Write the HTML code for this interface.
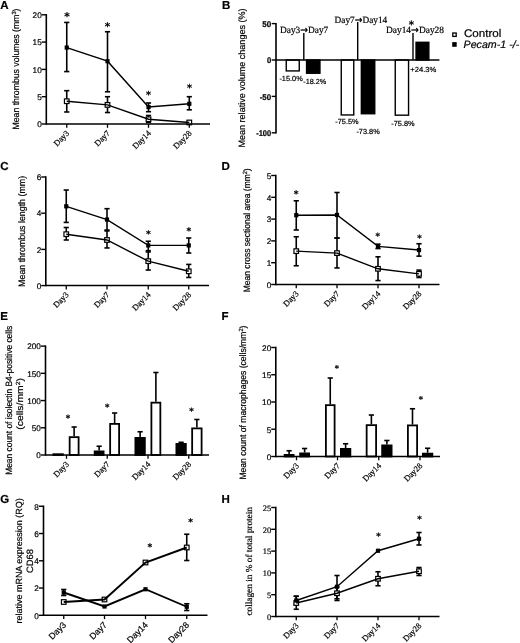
<!DOCTYPE html>
<html><head><meta charset="utf-8"><title>Figure</title>
<style>html,body{margin:0;padding:0;background:#fff;}svg{display:block;} text{stroke:#000;stroke-width:0.2px;}</style>
</head><body>
<svg width="520" height="643" viewBox="0 0 520 643" text-rendering="geometricPrecision">
<rect width="520" height="643" fill="#fff"/>
<text x="0.30" y="8.80" font-size="11.5" font-family='"Liberation Sans", Arial, sans-serif' text-anchor="start" font-weight="bold">A</text>
<line x1="66.75" y1="22.44" x2="66.75" y2="71.58" stroke="#000" stroke-width="1.6"/>
<line x1="64.15" y1="22.44" x2="69.35" y2="22.44" stroke="#000" stroke-width="1.6"/>
<line x1="64.15" y1="71.58" x2="69.35" y2="71.58" stroke="#000" stroke-width="1.6"/>
<line x1="107.50" y1="31.73" x2="107.50" y2="91.79" stroke="#000" stroke-width="1.6"/>
<line x1="104.90" y1="31.73" x2="110.10" y2="31.73" stroke="#000" stroke-width="1.6"/>
<line x1="104.90" y1="91.79" x2="110.10" y2="91.79" stroke="#000" stroke-width="1.6"/>
<line x1="148.50" y1="102.98" x2="148.50" y2="111.72" stroke="#000" stroke-width="1.6"/>
<line x1="145.90" y1="102.98" x2="151.10" y2="102.98" stroke="#000" stroke-width="1.6"/>
<line x1="145.90" y1="111.72" x2="151.10" y2="111.72" stroke="#000" stroke-width="1.6"/>
<line x1="189.30" y1="96.70" x2="189.30" y2="109.80" stroke="#000" stroke-width="1.6"/>
<line x1="186.70" y1="96.70" x2="191.90" y2="96.70" stroke="#000" stroke-width="1.6"/>
<line x1="186.70" y1="109.80" x2="191.90" y2="109.80" stroke="#000" stroke-width="1.6"/>
<line x1="66.75" y1="90.69" x2="66.75" y2="111.99" stroke="#000" stroke-width="1.6"/>
<line x1="64.15" y1="90.69" x2="69.35" y2="90.69" stroke="#000" stroke-width="1.6"/>
<line x1="64.15" y1="111.99" x2="69.35" y2="111.99" stroke="#000" stroke-width="1.6"/>
<line x1="107.50" y1="96.70" x2="107.50" y2="112.53" stroke="#000" stroke-width="1.6"/>
<line x1="104.90" y1="96.70" x2="110.10" y2="96.70" stroke="#000" stroke-width="1.6"/>
<line x1="104.90" y1="112.53" x2="110.10" y2="112.53" stroke="#000" stroke-width="1.6"/>
<line x1="148.50" y1="115.48" x2="148.50" y2="122.36" stroke="#000" stroke-width="1.6"/>
<line x1="145.90" y1="115.48" x2="151.10" y2="115.48" stroke="#000" stroke-width="1.6"/>
<line x1="145.90" y1="122.36" x2="151.10" y2="122.36" stroke="#000" stroke-width="1.6"/>
<line x1="189.30" y1="121.54" x2="189.30" y2="123.45" stroke="#000" stroke-width="1.6"/>
<line x1="186.70" y1="121.54" x2="191.90" y2="121.54" stroke="#000" stroke-width="1.6"/>
<line x1="186.70" y1="123.45" x2="191.90" y2="123.45" stroke="#000" stroke-width="1.6"/>
<rect x="64.45" y="98.93" width="4.6" height="4.6" fill="#fff" stroke="#000" stroke-width="1.2"/>
<rect x="105.20" y="102.59" width="4.6" height="4.6" fill="#fff" stroke="#000" stroke-width="1.2"/>
<rect x="146.20" y="116.95" width="4.6" height="4.6" fill="#fff" stroke="#000" stroke-width="1.2"/>
<rect x="187.00" y="120.17" width="4.6" height="4.6" fill="#fff" stroke="#000" stroke-width="1.2"/>
<polyline points="66.75,101.23 107.50,104.89 148.50,119.25 189.30,122.47" fill="none" stroke="#000" stroke-width="1.4"/>
<polyline points="66.75,47.56 107.50,61.21 148.50,107.07 189.30,103.80" fill="none" stroke="#000" stroke-width="1.4"/>
<rect x="64.65" y="45.46" width="4.2" height="4.2" fill="#000"/>
<rect x="105.40" y="59.11" width="4.2" height="4.2" fill="#000"/>
<rect x="146.40" y="104.97" width="4.2" height="4.2" fill="#000"/>
<rect x="187.20" y="101.70" width="4.2" height="4.2" fill="#000"/>
<text x="66.90" y="19.79" font-size="10.5" font-family='"DejaVu Sans", sans-serif' text-anchor="middle" font-weight="bold">*</text>
<text x="107.60" y="29.98" font-size="10.5" font-family='"DejaVu Sans", sans-serif' text-anchor="middle" font-weight="bold">*</text>
<text x="148.60" y="98.01" font-size="9.5" font-family='"DejaVu Sans", sans-serif' text-anchor="middle" font-weight="bold">*</text>
<text x="189.50" y="91.22" font-size="9.5" font-family='"DejaVu Sans", sans-serif' text-anchor="middle" font-weight="bold">*</text>
<line x1="46.30" y1="14.10" x2="46.30" y2="124.70" stroke="#000" stroke-width="1.6"/>
<line x1="41.70" y1="124.00" x2="46.30" y2="124.00" stroke="#000" stroke-width="1.4"/>
<text x="41.70" y="127.28" font-size="8.2" font-family='"Liberation Sans", Arial, sans-serif' text-anchor="end">0</text>
<line x1="41.70" y1="96.70" x2="46.30" y2="96.70" stroke="#000" stroke-width="1.4"/>
<text x="41.70" y="99.98" font-size="8.2" font-family='"Liberation Sans", Arial, sans-serif' text-anchor="end">5</text>
<line x1="41.70" y1="69.40" x2="46.30" y2="69.40" stroke="#000" stroke-width="1.4"/>
<text x="41.70" y="72.68" font-size="8.2" font-family='"Liberation Sans", Arial, sans-serif' text-anchor="end">10</text>
<line x1="41.70" y1="42.10" x2="46.30" y2="42.10" stroke="#000" stroke-width="1.4"/>
<text x="41.70" y="45.38" font-size="8.2" font-family='"Liberation Sans", Arial, sans-serif' text-anchor="end">15</text>
<line x1="41.70" y1="14.80" x2="46.30" y2="14.80" stroke="#000" stroke-width="1.4"/>
<text x="41.70" y="18.08" font-size="8.2" font-family='"Liberation Sans", Arial, sans-serif' text-anchor="end">20</text>
<line x1="46.30" y1="124.00" x2="210.00" y2="124.00" stroke="#000" stroke-width="1.5"/>
<line x1="66.75" y1="124.00" x2="66.75" y2="127.80" stroke="#000" stroke-width="1.3"/>
<text x="69.75" y="133.80" font-size="8.4" font-family='"Liberation Serif", "Times New Roman", serif' text-anchor="end" transform="rotate(-45 69.75 133.80)">Day3</text>
<line x1="107.50" y1="124.00" x2="107.50" y2="127.80" stroke="#000" stroke-width="1.3"/>
<text x="110.50" y="133.80" font-size="8.4" font-family='"Liberation Serif", "Times New Roman", serif' text-anchor="end" transform="rotate(-45 110.50 133.80)">Day7</text>
<line x1="148.50" y1="124.00" x2="148.50" y2="127.80" stroke="#000" stroke-width="1.3"/>
<text x="151.50" y="133.80" font-size="8.4" font-family='"Liberation Serif", "Times New Roman", serif' text-anchor="end" transform="rotate(-45 151.50 133.80)">Day14</text>
<line x1="189.30" y1="124.00" x2="189.30" y2="127.80" stroke="#000" stroke-width="1.3"/>
<text x="192.30" y="133.80" font-size="8.4" font-family='"Liberation Serif", "Times New Roman", serif' text-anchor="end" transform="rotate(-45 192.30 133.80)">Day28</text>
<text x="19.30" y="69.00" font-size="9.2" font-family='"Liberation Sans", Arial, sans-serif' text-anchor="middle" transform="rotate(-90 19.30 69.00)" textLength="121" lengthAdjust="spacingAndGlyphs">Mean thrombus volumes (mm<tspan font-size="6" dy="-3.2">3</tspan><tspan dy="3.2">)</tspan></text>
<text x="0.20" y="170.20" font-size="11.5" font-family='"Liberation Sans", Arial, sans-serif' text-anchor="start" font-weight="bold">C</text>
<line x1="66.25" y1="190.03" x2="66.25" y2="222.43" stroke="#000" stroke-width="1.6"/>
<line x1="63.65" y1="190.03" x2="68.85" y2="190.03" stroke="#000" stroke-width="1.6"/>
<line x1="63.65" y1="222.43" x2="68.85" y2="222.43" stroke="#000" stroke-width="1.6"/>
<line x1="107.00" y1="208.68" x2="107.00" y2="230.94" stroke="#000" stroke-width="1.6"/>
<line x1="104.40" y1="208.68" x2="109.60" y2="208.68" stroke="#000" stroke-width="1.6"/>
<line x1="104.40" y1="230.94" x2="109.60" y2="230.94" stroke="#000" stroke-width="1.6"/>
<line x1="148.25" y1="241.26" x2="148.25" y2="250.67" stroke="#000" stroke-width="1.6"/>
<line x1="145.65" y1="241.26" x2="150.85" y2="241.26" stroke="#000" stroke-width="1.6"/>
<line x1="145.65" y1="250.67" x2="150.85" y2="250.67" stroke="#000" stroke-width="1.6"/>
<line x1="188.75" y1="238.00" x2="188.75" y2="253.02" stroke="#000" stroke-width="1.6"/>
<line x1="186.15" y1="238.00" x2="191.35" y2="238.00" stroke="#000" stroke-width="1.6"/>
<line x1="186.15" y1="253.02" x2="191.35" y2="253.02" stroke="#000" stroke-width="1.6"/>
<line x1="66.25" y1="227.50" x2="66.25" y2="239.99" stroke="#000" stroke-width="1.6"/>
<line x1="63.65" y1="227.50" x2="68.85" y2="227.50" stroke="#000" stroke-width="1.6"/>
<line x1="63.65" y1="239.99" x2="68.85" y2="239.99" stroke="#000" stroke-width="1.6"/>
<line x1="107.00" y1="230.03" x2="107.00" y2="247.95" stroke="#000" stroke-width="1.6"/>
<line x1="104.40" y1="230.03" x2="109.60" y2="230.03" stroke="#000" stroke-width="1.6"/>
<line x1="104.40" y1="247.95" x2="109.60" y2="247.95" stroke="#000" stroke-width="1.6"/>
<line x1="148.25" y1="251.93" x2="148.25" y2="270.03" stroke="#000" stroke-width="1.6"/>
<line x1="145.65" y1="251.93" x2="150.85" y2="251.93" stroke="#000" stroke-width="1.6"/>
<line x1="145.65" y1="270.03" x2="150.85" y2="270.03" stroke="#000" stroke-width="1.6"/>
<line x1="188.75" y1="264.42" x2="188.75" y2="277.46" stroke="#000" stroke-width="1.6"/>
<line x1="186.15" y1="264.42" x2="191.35" y2="264.42" stroke="#000" stroke-width="1.6"/>
<line x1="186.15" y1="277.46" x2="191.35" y2="277.46" stroke="#000" stroke-width="1.6"/>
<rect x="63.95" y="231.90" width="4.6" height="4.6" fill="#fff" stroke="#000" stroke-width="1.2"/>
<rect x="104.70" y="237.69" width="4.6" height="4.6" fill="#fff" stroke="#000" stroke-width="1.2"/>
<rect x="145.95" y="258.87" width="4.6" height="4.6" fill="#fff" stroke="#000" stroke-width="1.2"/>
<rect x="186.45" y="269.00" width="4.6" height="4.6" fill="#fff" stroke="#000" stroke-width="1.2"/>
<polyline points="66.25,234.20 107.00,239.99 148.25,261.17 188.75,271.30" fill="none" stroke="#000" stroke-width="1.4"/>
<polyline points="66.25,206.32 107.00,219.54 148.25,245.42 188.75,245.42" fill="none" stroke="#000" stroke-width="1.4"/>
<rect x="64.15" y="204.22" width="4.2" height="4.2" fill="#000"/>
<rect x="104.90" y="217.44" width="4.2" height="4.2" fill="#000"/>
<rect x="146.15" y="243.32" width="4.2" height="4.2" fill="#000"/>
<rect x="186.65" y="243.32" width="4.2" height="4.2" fill="#000"/>
<text x="148.25" y="236.93" font-size="9" font-family='"DejaVu Sans", sans-serif' text-anchor="middle" font-weight="bold">*</text>
<text x="188.75" y="234.03" font-size="9" font-family='"DejaVu Sans", sans-serif' text-anchor="middle" font-weight="bold">*</text>
<line x1="45.80" y1="176.30" x2="45.80" y2="286.30" stroke="#000" stroke-width="1.6"/>
<line x1="41.20" y1="285.60" x2="45.80" y2="285.60" stroke="#000" stroke-width="1.4"/>
<text x="41.20" y="288.88" font-size="8.2" font-family='"Liberation Sans", Arial, sans-serif' text-anchor="end">0</text>
<line x1="41.20" y1="249.40" x2="45.80" y2="249.40" stroke="#000" stroke-width="1.4"/>
<text x="41.20" y="252.68" font-size="8.2" font-family='"Liberation Sans", Arial, sans-serif' text-anchor="end">2</text>
<line x1="41.20" y1="213.20" x2="45.80" y2="213.20" stroke="#000" stroke-width="1.4"/>
<text x="41.20" y="216.48" font-size="8.2" font-family='"Liberation Sans", Arial, sans-serif' text-anchor="end">4</text>
<line x1="41.20" y1="177.00" x2="45.80" y2="177.00" stroke="#000" stroke-width="1.4"/>
<text x="41.20" y="180.28" font-size="8.2" font-family='"Liberation Sans", Arial, sans-serif' text-anchor="end">6</text>
<line x1="45.80" y1="285.60" x2="209.00" y2="285.60" stroke="#000" stroke-width="1.5"/>
<line x1="66.25" y1="285.60" x2="66.25" y2="289.40" stroke="#000" stroke-width="1.3"/>
<text x="69.25" y="295.40" font-size="8.4" font-family='"Liberation Serif", "Times New Roman", serif' text-anchor="end" transform="rotate(-45 69.25 295.40)">Day3</text>
<line x1="107.00" y1="285.60" x2="107.00" y2="289.40" stroke="#000" stroke-width="1.3"/>
<text x="110.00" y="295.40" font-size="8.4" font-family='"Liberation Serif", "Times New Roman", serif' text-anchor="end" transform="rotate(-45 110.00 295.40)">Day7</text>
<line x1="148.25" y1="285.60" x2="148.25" y2="289.40" stroke="#000" stroke-width="1.3"/>
<text x="151.25" y="295.40" font-size="8.4" font-family='"Liberation Serif", "Times New Roman", serif' text-anchor="end" transform="rotate(-45 151.25 295.40)">Day14</text>
<line x1="188.75" y1="285.60" x2="188.75" y2="289.40" stroke="#000" stroke-width="1.3"/>
<text x="191.75" y="295.40" font-size="8.4" font-family='"Liberation Serif", "Times New Roman", serif' text-anchor="end" transform="rotate(-45 191.75 295.40)">Day28</text>
<text x="25.00" y="231.40" font-size="9.4" font-family='"Liberation Sans", Arial, sans-serif' text-anchor="middle" transform="rotate(-90 25.00 231.40)" textLength="111" lengthAdjust="spacingAndGlyphs">Mean thrombus length (mm)</text>
<text x="221.60" y="170.20" font-size="11.5" font-family='"Liberation Sans", Arial, sans-serif' text-anchor="start" font-weight="bold">D</text>
<line x1="296.25" y1="200.79" x2="296.25" y2="230.00" stroke="#000" stroke-width="1.6"/>
<line x1="293.65" y1="200.79" x2="298.85" y2="200.79" stroke="#000" stroke-width="1.6"/>
<line x1="293.65" y1="230.00" x2="298.85" y2="230.00" stroke="#000" stroke-width="1.6"/>
<line x1="337.00" y1="192.50" x2="337.00" y2="238.07" stroke="#000" stroke-width="1.6"/>
<line x1="334.40" y1="192.50" x2="339.60" y2="192.50" stroke="#000" stroke-width="1.6"/>
<line x1="334.40" y1="238.07" x2="339.60" y2="238.07" stroke="#000" stroke-width="1.6"/>
<line x1="378.00" y1="244.17" x2="378.00" y2="248.53" stroke="#000" stroke-width="1.6"/>
<line x1="375.40" y1="244.17" x2="380.60" y2="244.17" stroke="#000" stroke-width="1.6"/>
<line x1="375.40" y1="248.53" x2="380.60" y2="248.53" stroke="#000" stroke-width="1.6"/>
<line x1="419.00" y1="243.73" x2="419.00" y2="256.16" stroke="#000" stroke-width="1.6"/>
<line x1="416.40" y1="243.73" x2="421.60" y2="243.73" stroke="#000" stroke-width="1.6"/>
<line x1="416.40" y1="256.16" x2="421.60" y2="256.16" stroke="#000" stroke-width="1.6"/>
<line x1="296.25" y1="236.76" x2="296.25" y2="265.75" stroke="#000" stroke-width="1.6"/>
<line x1="293.65" y1="236.76" x2="298.85" y2="236.76" stroke="#000" stroke-width="1.6"/>
<line x1="293.65" y1="265.75" x2="298.85" y2="265.75" stroke="#000" stroke-width="1.6"/>
<line x1="337.00" y1="238.07" x2="337.00" y2="267.93" stroke="#000" stroke-width="1.6"/>
<line x1="334.40" y1="238.07" x2="339.60" y2="238.07" stroke="#000" stroke-width="1.6"/>
<line x1="334.40" y1="267.93" x2="339.60" y2="267.93" stroke="#000" stroke-width="1.6"/>
<line x1="378.00" y1="256.81" x2="378.00" y2="280.58" stroke="#000" stroke-width="1.6"/>
<line x1="375.40" y1="256.81" x2="380.60" y2="256.81" stroke="#000" stroke-width="1.6"/>
<line x1="375.40" y1="280.58" x2="380.60" y2="280.58" stroke="#000" stroke-width="1.6"/>
<line x1="419.00" y1="270.11" x2="419.00" y2="277.52" stroke="#000" stroke-width="1.6"/>
<line x1="416.40" y1="270.11" x2="421.60" y2="270.11" stroke="#000" stroke-width="1.6"/>
<line x1="416.40" y1="277.52" x2="421.60" y2="277.52" stroke="#000" stroke-width="1.6"/>
<rect x="293.95" y="248.85" width="4.6" height="4.6" fill="#fff" stroke="#000" stroke-width="1.2"/>
<rect x="334.70" y="250.81" width="4.6" height="4.6" fill="#fff" stroke="#000" stroke-width="1.2"/>
<rect x="375.70" y="266.50" width="4.6" height="4.6" fill="#fff" stroke="#000" stroke-width="1.2"/>
<rect x="416.70" y="271.52" width="4.6" height="4.6" fill="#fff" stroke="#000" stroke-width="1.2"/>
<polyline points="296.25,251.15 337.00,253.11 378.00,268.80 419.00,273.82" fill="none" stroke="#000" stroke-width="1.4"/>
<polyline points="296.25,215.18 337.00,214.96 378.00,246.35 419.00,250.06" fill="none" stroke="#000" stroke-width="1.4"/>
<rect x="294.15" y="213.08" width="4.2" height="4.2" fill="#000"/>
<rect x="334.90" y="212.86" width="4.2" height="4.2" fill="#000"/>
<rect x="375.90" y="244.25" width="4.2" height="4.2" fill="#000"/>
<rect x="416.90" y="247.96" width="4.2" height="4.2" fill="#000"/>
<text x="296.10" y="197.43" font-size="9" font-family='"DejaVu Sans", sans-serif' text-anchor="middle" font-weight="bold">*</text>
<text x="377.70" y="239.25" font-size="8.5" font-family='"DejaVu Sans", sans-serif' text-anchor="middle" font-weight="bold">*</text>
<text x="419.40" y="241.34" font-size="8.5" font-family='"DejaVu Sans", sans-serif' text-anchor="middle" font-weight="bold">*</text>
<line x1="275.80" y1="174.80" x2="275.80" y2="285.20" stroke="#000" stroke-width="1.6"/>
<line x1="271.20" y1="284.50" x2="275.80" y2="284.50" stroke="#000" stroke-width="1.4"/>
<text x="271.20" y="287.78" font-size="8.2" font-family='"Liberation Sans", Arial, sans-serif' text-anchor="end">0</text>
<line x1="271.20" y1="262.70" x2="275.80" y2="262.70" stroke="#000" stroke-width="1.4"/>
<text x="271.20" y="265.98" font-size="8.2" font-family='"Liberation Sans", Arial, sans-serif' text-anchor="end">1</text>
<line x1="271.20" y1="240.90" x2="275.80" y2="240.90" stroke="#000" stroke-width="1.4"/>
<text x="271.20" y="244.18" font-size="8.2" font-family='"Liberation Sans", Arial, sans-serif' text-anchor="end">2</text>
<line x1="271.20" y1="219.10" x2="275.80" y2="219.10" stroke="#000" stroke-width="1.4"/>
<text x="271.20" y="222.38" font-size="8.2" font-family='"Liberation Sans", Arial, sans-serif' text-anchor="end">3</text>
<line x1="271.20" y1="197.30" x2="275.80" y2="197.30" stroke="#000" stroke-width="1.4"/>
<text x="271.20" y="200.58" font-size="8.2" font-family='"Liberation Sans", Arial, sans-serif' text-anchor="end">4</text>
<line x1="271.20" y1="175.50" x2="275.80" y2="175.50" stroke="#000" stroke-width="1.4"/>
<text x="271.20" y="178.78" font-size="8.2" font-family='"Liberation Sans", Arial, sans-serif' text-anchor="end">5</text>
<line x1="275.80" y1="284.50" x2="439.50" y2="284.50" stroke="#000" stroke-width="1.5"/>
<line x1="296.25" y1="284.50" x2="296.25" y2="288.30" stroke="#000" stroke-width="1.3"/>
<text x="299.25" y="294.30" font-size="8.4" font-family='"Liberation Serif", "Times New Roman", serif' text-anchor="end" transform="rotate(-45 299.25 294.30)">Day3</text>
<line x1="337.00" y1="284.50" x2="337.00" y2="288.30" stroke="#000" stroke-width="1.3"/>
<text x="340.00" y="294.30" font-size="8.4" font-family='"Liberation Serif", "Times New Roman", serif' text-anchor="end" transform="rotate(-45 340.00 294.30)">Day7</text>
<line x1="378.00" y1="284.50" x2="378.00" y2="288.30" stroke="#000" stroke-width="1.3"/>
<text x="381.00" y="294.30" font-size="8.4" font-family='"Liberation Serif", "Times New Roman", serif' text-anchor="end" transform="rotate(-45 381.00 294.30)">Day14</text>
<line x1="419.00" y1="284.50" x2="419.00" y2="288.30" stroke="#000" stroke-width="1.3"/>
<text x="422.00" y="294.30" font-size="8.4" font-family='"Liberation Serif", "Times New Roman", serif' text-anchor="end" transform="rotate(-45 422.00 294.30)">Day28</text>
<text x="250.50" y="230.30" font-size="9.2" font-family='"Liberation Sans", Arial, sans-serif' text-anchor="middle" transform="rotate(-90 250.50 230.30)" textLength="124" lengthAdjust="spacingAndGlyphs">Mean cross sectional area (mm<tspan font-size="6" dy="-3.2">2</tspan><tspan dy="3.2">)</tspan></text>
<text x="0.20" y="320.20" font-size="11.5" font-family='"Liberation Sans", Arial, sans-serif' text-anchor="start" font-weight="bold">E</text>
<rect x="53.40" y="454.20" width="9.45" height="0.80" fill="#000" stroke="#000" stroke-width="1.8"/>
<line x1="74.12" y1="427.00" x2="74.12" y2="436.25" stroke="#000" stroke-width="1.6"/>
<line x1="71.53" y1="427.00" x2="76.72" y2="427.00" stroke="#000" stroke-width="1.6"/>
<rect x="69.65" y="437.15" width="8.95" height="17.85" fill="#fff" stroke="#000" stroke-width="1.8"/>
<line x1="99.12" y1="446.25" x2="99.12" y2="450.50" stroke="#000" stroke-width="1.6"/>
<line x1="96.53" y1="446.25" x2="101.72" y2="446.25" stroke="#000" stroke-width="1.6"/>
<rect x="94.65" y="451.40" width="8.95" height="3.60" fill="#000" stroke="#000" stroke-width="1.8"/>
<line x1="114.62" y1="413.00" x2="114.62" y2="423.00" stroke="#000" stroke-width="1.6"/>
<line x1="112.03" y1="413.00" x2="117.22" y2="413.00" stroke="#000" stroke-width="1.6"/>
<rect x="110.15" y="423.90" width="8.95" height="31.10" fill="#fff" stroke="#000" stroke-width="1.8"/>
<line x1="140.12" y1="431.75" x2="140.12" y2="437.00" stroke="#000" stroke-width="1.6"/>
<line x1="137.53" y1="431.75" x2="142.72" y2="431.75" stroke="#000" stroke-width="1.6"/>
<rect x="135.40" y="437.90" width="9.45" height="17.10" fill="#000" stroke="#000" stroke-width="1.8"/>
<line x1="155.88" y1="372.50" x2="155.88" y2="401.75" stroke="#000" stroke-width="1.6"/>
<line x1="153.28" y1="372.50" x2="158.47" y2="372.50" stroke="#000" stroke-width="1.6"/>
<rect x="151.40" y="402.65" width="8.95" height="52.35" fill="#fff" stroke="#000" stroke-width="1.8"/>
<line x1="181.12" y1="442.30" x2="181.12" y2="443.00" stroke="#000" stroke-width="1.6"/>
<line x1="178.53" y1="442.30" x2="183.72" y2="442.30" stroke="#000" stroke-width="1.6"/>
<rect x="176.40" y="443.90" width="9.45" height="11.10" fill="#000" stroke="#000" stroke-width="1.8"/>
<line x1="196.88" y1="419.50" x2="196.88" y2="427.50" stroke="#000" stroke-width="1.6"/>
<line x1="194.28" y1="419.50" x2="199.47" y2="419.50" stroke="#000" stroke-width="1.6"/>
<rect x="192.15" y="428.40" width="9.45" height="26.60" fill="#fff" stroke="#000" stroke-width="1.8"/>
<text x="68.00" y="421.25" font-size="8.5" font-family='"DejaVu Sans", sans-serif' text-anchor="middle" font-weight="bold">*</text>
<text x="107.30" y="409.85" font-size="8.5" font-family='"DejaVu Sans", sans-serif' text-anchor="middle" font-weight="bold">*</text>
<text x="191.50" y="414.45" font-size="8.5" font-family='"DejaVu Sans", sans-serif' text-anchor="middle" font-weight="bold">*</text>
<line x1="45.50" y1="345.40" x2="45.50" y2="455.70" stroke="#000" stroke-width="1.6"/>
<line x1="40.90" y1="455.00" x2="45.50" y2="455.00" stroke="#000" stroke-width="1.4"/>
<text x="40.90" y="458.28" font-size="8.2" font-family='"Liberation Sans", Arial, sans-serif' text-anchor="end">0</text>
<line x1="40.90" y1="427.77" x2="45.50" y2="427.77" stroke="#000" stroke-width="1.4"/>
<text x="40.90" y="431.05" font-size="8.2" font-family='"Liberation Sans", Arial, sans-serif' text-anchor="end">50</text>
<line x1="40.90" y1="400.55" x2="45.50" y2="400.55" stroke="#000" stroke-width="1.4"/>
<text x="40.90" y="403.83" font-size="8.2" font-family='"Liberation Sans", Arial, sans-serif' text-anchor="end">100</text>
<line x1="40.90" y1="373.32" x2="45.50" y2="373.32" stroke="#000" stroke-width="1.4"/>
<text x="40.90" y="376.60" font-size="8.2" font-family='"Liberation Sans", Arial, sans-serif' text-anchor="end">150</text>
<line x1="40.90" y1="346.10" x2="45.50" y2="346.10" stroke="#000" stroke-width="1.4"/>
<text x="40.90" y="349.38" font-size="8.2" font-family='"Liberation Sans", Arial, sans-serif' text-anchor="end">200</text>
<line x1="45.50" y1="455.00" x2="209.00" y2="455.00" stroke="#000" stroke-width="1.5"/>
<line x1="66.50" y1="455.00" x2="66.50" y2="458.80" stroke="#000" stroke-width="1.3"/>
<text x="69.50" y="464.80" font-size="8.4" font-family='"Liberation Serif", "Times New Roman", serif' text-anchor="end" transform="rotate(-45 69.50 464.80)">Day3</text>
<line x1="107.25" y1="455.00" x2="107.25" y2="458.80" stroke="#000" stroke-width="1.3"/>
<text x="110.25" y="464.80" font-size="8.4" font-family='"Liberation Serif", "Times New Roman", serif' text-anchor="end" transform="rotate(-45 110.25 464.80)">Day7</text>
<line x1="148.00" y1="455.00" x2="148.00" y2="458.80" stroke="#000" stroke-width="1.3"/>
<text x="151.00" y="464.80" font-size="8.4" font-family='"Liberation Serif", "Times New Roman", serif' text-anchor="end" transform="rotate(-45 151.00 464.80)">Day14</text>
<line x1="188.75" y1="455.00" x2="188.75" y2="458.80" stroke="#000" stroke-width="1.3"/>
<text x="191.75" y="464.80" font-size="8.4" font-family='"Liberation Serif", "Times New Roman", serif' text-anchor="end" transform="rotate(-45 191.75 464.80)">Day28</text>
<text x="12.00" y="400.30" font-size="9.2" font-family='"Liberation Sans", Arial, sans-serif' text-anchor="middle" transform="rotate(-90 12.00 400.30)" textLength="149" lengthAdjust="spacingAndGlyphs">Mean count of isolectin B4-positive cells</text>
<text x="23.50" y="403.90" font-size="9.2" font-family='"Liberation Sans", Arial, sans-serif' text-anchor="middle" transform="rotate(-90 23.50 403.90)" textLength="51.5" lengthAdjust="spacingAndGlyphs">(cells/mm<tspan font-size="6" dy="-3.2">2</tspan><tspan dy="3.2">)</tspan></text>
<text x="221.60" y="320.20" font-size="11.5" font-family='"Liberation Sans", Arial, sans-serif' text-anchor="start" font-weight="bold">F</text>
<line x1="289.12" y1="450.75" x2="289.12" y2="454.00" stroke="#000" stroke-width="1.6"/>
<line x1="286.52" y1="450.75" x2="291.73" y2="450.75" stroke="#000" stroke-width="1.6"/>
<rect x="284.65" y="454.90" width="8.95" height="1.60" fill="#fff" stroke="#000" stroke-width="1.8"/>
<line x1="304.62" y1="448.50" x2="304.62" y2="452.50" stroke="#000" stroke-width="1.6"/>
<line x1="302.02" y1="448.50" x2="307.23" y2="448.50" stroke="#000" stroke-width="1.6"/>
<rect x="300.15" y="453.40" width="8.95" height="3.10" fill="#000" stroke="#000" stroke-width="1.8"/>
<line x1="330.25" y1="378.00" x2="330.25" y2="404.25" stroke="#000" stroke-width="1.6"/>
<line x1="327.65" y1="378.00" x2="332.85" y2="378.00" stroke="#000" stroke-width="1.6"/>
<rect x="325.90" y="405.15" width="8.70" height="51.35" fill="#fff" stroke="#000" stroke-width="1.8"/>
<line x1="345.62" y1="443.75" x2="345.62" y2="448.00" stroke="#000" stroke-width="1.6"/>
<line x1="343.02" y1="443.75" x2="348.23" y2="443.75" stroke="#000" stroke-width="1.6"/>
<rect x="340.90" y="448.90" width="9.45" height="7.60" fill="#000" stroke="#000" stroke-width="1.8"/>
<line x1="371.38" y1="415.00" x2="371.38" y2="424.25" stroke="#000" stroke-width="1.6"/>
<line x1="368.77" y1="415.00" x2="373.98" y2="415.00" stroke="#000" stroke-width="1.6"/>
<rect x="366.65" y="425.15" width="9.45" height="31.35" fill="#fff" stroke="#000" stroke-width="1.8"/>
<line x1="386.88" y1="440.50" x2="386.88" y2="444.50" stroke="#000" stroke-width="1.6"/>
<line x1="384.27" y1="440.50" x2="389.48" y2="440.50" stroke="#000" stroke-width="1.6"/>
<rect x="382.15" y="445.40" width="9.45" height="11.10" fill="#000" stroke="#000" stroke-width="1.8"/>
<line x1="412.50" y1="408.75" x2="412.50" y2="424.50" stroke="#000" stroke-width="1.6"/>
<line x1="409.90" y1="408.75" x2="415.10" y2="408.75" stroke="#000" stroke-width="1.6"/>
<rect x="407.90" y="425.40" width="9.20" height="31.10" fill="#fff" stroke="#000" stroke-width="1.8"/>
<line x1="427.62" y1="448.25" x2="427.62" y2="452.75" stroke="#000" stroke-width="1.6"/>
<line x1="425.02" y1="448.25" x2="430.23" y2="448.25" stroke="#000" stroke-width="1.6"/>
<rect x="422.90" y="453.65" width="9.45" height="2.85" fill="#000" stroke="#000" stroke-width="1.8"/>
<text x="336.90" y="370.66" font-size="8" font-family='"DejaVu Sans", sans-serif' text-anchor="middle" font-weight="bold">*</text>
<text x="420.90" y="401.56" font-size="8" font-family='"DejaVu Sans", sans-serif' text-anchor="middle" font-weight="bold">*</text>
<line x1="275.80" y1="346.80" x2="275.80" y2="457.20" stroke="#000" stroke-width="1.6"/>
<line x1="271.20" y1="456.50" x2="275.80" y2="456.50" stroke="#000" stroke-width="1.4"/>
<text x="271.20" y="459.78" font-size="8.2" font-family='"Liberation Sans", Arial, sans-serif' text-anchor="end">0</text>
<line x1="271.20" y1="429.25" x2="275.80" y2="429.25" stroke="#000" stroke-width="1.4"/>
<text x="271.20" y="432.53" font-size="8.2" font-family='"Liberation Sans", Arial, sans-serif' text-anchor="end">5</text>
<line x1="271.20" y1="402.00" x2="275.80" y2="402.00" stroke="#000" stroke-width="1.4"/>
<text x="271.20" y="405.28" font-size="8.2" font-family='"Liberation Sans", Arial, sans-serif' text-anchor="end">10</text>
<line x1="271.20" y1="374.75" x2="275.80" y2="374.75" stroke="#000" stroke-width="1.4"/>
<text x="271.20" y="378.03" font-size="8.2" font-family='"Liberation Sans", Arial, sans-serif' text-anchor="end">15</text>
<line x1="271.20" y1="347.50" x2="275.80" y2="347.50" stroke="#000" stroke-width="1.4"/>
<text x="271.20" y="350.78" font-size="8.2" font-family='"Liberation Sans", Arial, sans-serif' text-anchor="end">20</text>
<line x1="275.80" y1="456.50" x2="440.00" y2="456.50" stroke="#000" stroke-width="1.5"/>
<line x1="296.50" y1="456.50" x2="296.50" y2="460.30" stroke="#000" stroke-width="1.3"/>
<text x="299.50" y="466.30" font-size="8.4" font-family='"Liberation Serif", "Times New Roman", serif' text-anchor="end" transform="rotate(-45 299.50 466.30)">Day3</text>
<line x1="337.50" y1="456.50" x2="337.50" y2="460.30" stroke="#000" stroke-width="1.3"/>
<text x="340.50" y="466.30" font-size="8.4" font-family='"Liberation Serif", "Times New Roman", serif' text-anchor="end" transform="rotate(-45 340.50 466.30)">Day7</text>
<line x1="378.75" y1="456.50" x2="378.75" y2="460.30" stroke="#000" stroke-width="1.3"/>
<text x="381.75" y="466.30" font-size="8.4" font-family='"Liberation Serif", "Times New Roman", serif' text-anchor="end" transform="rotate(-45 381.75 466.30)">Day14</text>
<line x1="420.00" y1="456.50" x2="420.00" y2="460.30" stroke="#000" stroke-width="1.3"/>
<text x="423.00" y="466.30" font-size="8.4" font-family='"Liberation Serif", "Times New Roman", serif' text-anchor="end" transform="rotate(-45 423.00 466.30)">Day28</text>
<text x="246.00" y="402.60" font-size="9.2" font-family='"Liberation Sans", Arial, sans-serif' text-anchor="middle" transform="rotate(-90 246.00 402.60)" textLength="154" lengthAdjust="spacingAndGlyphs">Mean count of macrophages (cells/mm<tspan font-size="6" dy="-3.2">2</tspan><tspan dy="3.2">)</tspan></text>
<text x="0.20" y="503.30" font-size="11.5" font-family='"Liberation Sans", Arial, sans-serif' text-anchor="start" font-weight="bold">G</text>
<line x1="63.75" y1="589.50" x2="63.75" y2="595.50" stroke="#000" stroke-width="1.6"/>
<line x1="61.15" y1="589.50" x2="66.35" y2="589.50" stroke="#000" stroke-width="1.6"/>
<line x1="61.15" y1="595.50" x2="66.35" y2="595.50" stroke="#000" stroke-width="1.6"/>
<line x1="186.75" y1="603.75" x2="186.75" y2="610.50" stroke="#000" stroke-width="1.6"/>
<line x1="184.15" y1="603.75" x2="189.35" y2="603.75" stroke="#000" stroke-width="1.6"/>
<line x1="184.15" y1="610.50" x2="189.35" y2="610.50" stroke="#000" stroke-width="1.6"/>
<line x1="186.75" y1="534.25" x2="186.75" y2="560.50" stroke="#000" stroke-width="1.6"/>
<line x1="184.15" y1="534.25" x2="189.35" y2="534.25" stroke="#000" stroke-width="1.6"/>
<line x1="184.15" y1="560.50" x2="189.35" y2="560.50" stroke="#000" stroke-width="1.6"/>
<rect x="61.45" y="599.70" width="4.6" height="4.6" fill="#fff" stroke="#000" stroke-width="1.2"/>
<rect x="102.20" y="597.20" width="4.6" height="4.6" fill="#fff" stroke="#000" stroke-width="1.2"/>
<rect x="143.20" y="560.20" width="4.6" height="4.6" fill="#fff" stroke="#000" stroke-width="1.2"/>
<rect x="184.45" y="545.20" width="4.6" height="4.6" fill="#fff" stroke="#000" stroke-width="1.2"/>
<polyline points="63.75,602.00 104.50,599.50 145.50,562.50 186.75,547.50" fill="none" stroke="#000" stroke-width="1.9"/>
<polyline points="63.75,592.50 104.50,606.50 145.50,589.25 186.75,606.75" fill="none" stroke="#000" stroke-width="1.9"/>
<rect x="61.65" y="590.40" width="4.2" height="4.2" fill="#000"/>
<rect x="102.40" y="604.40" width="4.2" height="4.2" fill="#000"/>
<rect x="143.40" y="587.15" width="4.2" height="4.2" fill="#000"/>
<rect x="184.65" y="604.65" width="4.2" height="4.2" fill="#000"/>
<text x="149.75" y="549.88" font-size="9" font-family='"DejaVu Sans", sans-serif' text-anchor="middle" font-weight="bold">*</text>
<text x="190.60" y="524.53" font-size="9" font-family='"DejaVu Sans", sans-serif' text-anchor="middle" font-weight="bold">*</text>
<line x1="43.50" y1="505.56" x2="43.50" y2="616.00" stroke="#000" stroke-width="1.6"/>
<line x1="38.90" y1="615.30" x2="43.50" y2="615.30" stroke="#000" stroke-width="1.4"/>
<text x="38.90" y="618.58" font-size="8.2" font-family='"Liberation Sans", Arial, sans-serif' text-anchor="end">0</text>
<line x1="38.90" y1="588.04" x2="43.50" y2="588.04" stroke="#000" stroke-width="1.4"/>
<text x="38.90" y="591.32" font-size="8.2" font-family='"Liberation Sans", Arial, sans-serif' text-anchor="end">2</text>
<line x1="38.90" y1="560.78" x2="43.50" y2="560.78" stroke="#000" stroke-width="1.4"/>
<text x="38.90" y="564.06" font-size="8.2" font-family='"Liberation Sans", Arial, sans-serif' text-anchor="end">4</text>
<line x1="38.90" y1="533.52" x2="43.50" y2="533.52" stroke="#000" stroke-width="1.4"/>
<text x="38.90" y="536.80" font-size="8.2" font-family='"Liberation Sans", Arial, sans-serif' text-anchor="end">6</text>
<line x1="38.90" y1="506.26" x2="43.50" y2="506.26" stroke="#000" stroke-width="1.4"/>
<text x="38.90" y="509.54" font-size="8.2" font-family='"Liberation Sans", Arial, sans-serif' text-anchor="end">8</text>
<line x1="43.50" y1="615.30" x2="207.50" y2="615.30" stroke="#000" stroke-width="1.5"/>
<line x1="63.75" y1="615.30" x2="63.75" y2="619.10" stroke="#000" stroke-width="1.3"/>
<text x="66.75" y="625.50" font-size="8.8" font-family='"Liberation Sans", Arial, sans-serif' text-anchor="end" transform="rotate(-45 66.75 625.50)">Day3</text>
<line x1="104.50" y1="615.30" x2="104.50" y2="619.10" stroke="#000" stroke-width="1.3"/>
<text x="107.50" y="625.50" font-size="8.8" font-family='"Liberation Sans", Arial, sans-serif' text-anchor="end" transform="rotate(-45 107.50 625.50)">Day7</text>
<line x1="145.50" y1="615.30" x2="145.50" y2="619.10" stroke="#000" stroke-width="1.3"/>
<text x="148.50" y="625.50" font-size="8.8" font-family='"Liberation Sans", Arial, sans-serif' text-anchor="end" transform="rotate(-45 148.50 625.50)">Day14</text>
<line x1="186.75" y1="615.30" x2="186.75" y2="619.10" stroke="#000" stroke-width="1.3"/>
<text x="189.75" y="625.50" font-size="8.8" font-family='"Liberation Sans", Arial, sans-serif' text-anchor="end" transform="rotate(-45 189.75 625.50)">Day28</text>
<text x="22.30" y="560.90" font-size="8.9" font-family='"Liberation Sans", Arial, sans-serif' text-anchor="middle" transform="rotate(-90 22.30 560.90)" textLength="125.2" lengthAdjust="spacingAndGlyphs">relative mRNA expression (RQ)</text>
<text x="33.00" y="561.10" font-size="9.2" font-family='"Liberation Sans", Arial, sans-serif' text-anchor="middle" transform="rotate(-90 33.00 561.10)" textLength="24" lengthAdjust="spacingAndGlyphs">CD68</text>
<text x="221.60" y="503.10" font-size="11.5" font-family='"Liberation Sans", Arial, sans-serif' text-anchor="start" font-weight="bold">H</text>
<line x1="296.25" y1="596.25" x2="296.25" y2="604.50" stroke="#000" stroke-width="1.6"/>
<line x1="293.65" y1="596.25" x2="298.85" y2="596.25" stroke="#000" stroke-width="1.6"/>
<line x1="293.65" y1="604.50" x2="298.85" y2="604.50" stroke="#000" stroke-width="1.6"/>
<line x1="337.00" y1="575.50" x2="337.00" y2="598.75" stroke="#000" stroke-width="1.6"/>
<line x1="334.40" y1="575.50" x2="339.60" y2="575.50" stroke="#000" stroke-width="1.6"/>
<line x1="334.40" y1="598.75" x2="339.60" y2="598.75" stroke="#000" stroke-width="1.6"/>
<line x1="419.00" y1="532.50" x2="419.00" y2="545.00" stroke="#000" stroke-width="1.6"/>
<line x1="416.40" y1="532.50" x2="421.60" y2="532.50" stroke="#000" stroke-width="1.6"/>
<line x1="416.40" y1="545.00" x2="421.60" y2="545.00" stroke="#000" stroke-width="1.6"/>
<line x1="296.25" y1="596.25" x2="296.25" y2="609.25" stroke="#000" stroke-width="1.6"/>
<line x1="293.65" y1="596.25" x2="298.85" y2="596.25" stroke="#000" stroke-width="1.6"/>
<line x1="293.65" y1="609.25" x2="298.85" y2="609.25" stroke="#000" stroke-width="1.6"/>
<line x1="337.00" y1="587.00" x2="337.00" y2="600.50" stroke="#000" stroke-width="1.6"/>
<line x1="334.40" y1="587.00" x2="339.60" y2="587.00" stroke="#000" stroke-width="1.6"/>
<line x1="334.40" y1="600.50" x2="339.60" y2="600.50" stroke="#000" stroke-width="1.6"/>
<line x1="378.00" y1="571.75" x2="378.00" y2="585.75" stroke="#000" stroke-width="1.6"/>
<line x1="375.40" y1="571.75" x2="380.60" y2="571.75" stroke="#000" stroke-width="1.6"/>
<line x1="375.40" y1="585.75" x2="380.60" y2="585.75" stroke="#000" stroke-width="1.6"/>
<line x1="419.00" y1="567.50" x2="419.00" y2="575.50" stroke="#000" stroke-width="1.6"/>
<line x1="416.40" y1="567.50" x2="421.60" y2="567.50" stroke="#000" stroke-width="1.6"/>
<line x1="416.40" y1="575.50" x2="421.60" y2="575.50" stroke="#000" stroke-width="1.6"/>
<rect x="293.95" y="600.70" width="4.6" height="4.6" fill="#fff" stroke="#000" stroke-width="1.2"/>
<rect x="334.70" y="590.95" width="4.6" height="4.6" fill="#fff" stroke="#000" stroke-width="1.2"/>
<rect x="375.70" y="576.45" width="4.6" height="4.6" fill="#fff" stroke="#000" stroke-width="1.2"/>
<rect x="416.70" y="568.95" width="4.6" height="4.6" fill="#fff" stroke="#000" stroke-width="1.2"/>
<polyline points="296.25,603.00 337.00,593.25 378.00,578.75 419.00,571.25" fill="none" stroke="#000" stroke-width="1.4"/>
<polyline points="296.25,600.50 337.00,586.75 378.00,550.75 419.00,538.75" fill="none" stroke="#000" stroke-width="1.4"/>
<rect x="294.15" y="598.40" width="4.2" height="4.2" fill="#000"/>
<rect x="334.90" y="584.65" width="4.2" height="4.2" fill="#000"/>
<rect x="375.90" y="548.65" width="4.2" height="4.2" fill="#000"/>
<rect x="416.90" y="536.65" width="4.2" height="4.2" fill="#000"/>
<text x="378.50" y="538.75" font-size="8.5" font-family='"DejaVu Sans", sans-serif' text-anchor="middle" font-weight="bold">*</text>
<text x="419.40" y="522.05" font-size="8.5" font-family='"DejaVu Sans", sans-serif' text-anchor="middle" font-weight="bold">*</text>
<line x1="275.80" y1="506.80" x2="275.80" y2="617.20" stroke="#000" stroke-width="1.6"/>
<line x1="271.20" y1="616.50" x2="275.80" y2="616.50" stroke="#000" stroke-width="1.4"/>
<text x="271.20" y="619.86" font-size="8.4" font-family='"Liberation Serif", "Times New Roman", serif' text-anchor="end">0</text>
<line x1="271.20" y1="594.70" x2="275.80" y2="594.70" stroke="#000" stroke-width="1.4"/>
<text x="271.20" y="598.06" font-size="8.4" font-family='"Liberation Serif", "Times New Roman", serif' text-anchor="end">5</text>
<line x1="271.20" y1="572.90" x2="275.80" y2="572.90" stroke="#000" stroke-width="1.4"/>
<text x="271.20" y="576.26" font-size="8.4" font-family='"Liberation Serif", "Times New Roman", serif' text-anchor="end">10</text>
<line x1="271.20" y1="551.10" x2="275.80" y2="551.10" stroke="#000" stroke-width="1.4"/>
<text x="271.20" y="554.46" font-size="8.4" font-family='"Liberation Serif", "Times New Roman", serif' text-anchor="end">15</text>
<line x1="271.20" y1="529.30" x2="275.80" y2="529.30" stroke="#000" stroke-width="1.4"/>
<text x="271.20" y="532.66" font-size="8.4" font-family='"Liberation Serif", "Times New Roman", serif' text-anchor="end">20</text>
<line x1="271.20" y1="507.50" x2="275.80" y2="507.50" stroke="#000" stroke-width="1.4"/>
<text x="271.20" y="510.86" font-size="8.4" font-family='"Liberation Serif", "Times New Roman", serif' text-anchor="end">25</text>
<line x1="275.80" y1="616.50" x2="439.50" y2="616.50" stroke="#000" stroke-width="1.5"/>
<line x1="296.25" y1="616.50" x2="296.25" y2="620.30" stroke="#000" stroke-width="1.3"/>
<text x="299.25" y="626.30" font-size="8.4" font-family='"Liberation Serif", "Times New Roman", serif' text-anchor="end" transform="rotate(-45 299.25 626.30)">Day3</text>
<line x1="337.00" y1="616.50" x2="337.00" y2="620.30" stroke="#000" stroke-width="1.3"/>
<text x="340.00" y="626.30" font-size="8.4" font-family='"Liberation Serif", "Times New Roman", serif' text-anchor="end" transform="rotate(-45 340.00 626.30)">Day7</text>
<line x1="378.00" y1="616.50" x2="378.00" y2="620.30" stroke="#000" stroke-width="1.3"/>
<text x="381.00" y="626.30" font-size="8.4" font-family='"Liberation Serif", "Times New Roman", serif' text-anchor="end" transform="rotate(-45 381.00 626.30)">Day14</text>
<line x1="419.00" y1="616.50" x2="419.00" y2="620.30" stroke="#000" stroke-width="1.3"/>
<text x="422.00" y="626.30" font-size="8.4" font-family='"Liberation Serif", "Times New Roman", serif' text-anchor="end" transform="rotate(-45 422.00 626.30)">Day28</text>
<text x="252.50" y="561.30" font-size="9.2" font-family='"Liberation Serif", "Times New Roman", serif' text-anchor="middle" transform="rotate(-90 252.50 561.30)" textLength="108.5" lengthAdjust="spacingAndGlyphs">collagen in % of total protein</text>
<text x="222.00" y="8.90" font-size="11.5" font-family='"Liberation Sans", Arial, sans-serif' text-anchor="start" font-weight="bold">B</text>
<rect x="286.25" y="60.00" width="13.00" height="10.92" fill="#fff" stroke="#000" stroke-width="1.4"/>
<rect x="306.55" y="60.00" width="13.40" height="13.25" fill="#000" stroke="#000" stroke-width="1.4"/>
<rect x="341.25" y="60.00" width="12.50" height="54.96" fill="#fff" stroke="#000" stroke-width="1.4"/>
<rect x="361.35" y="60.00" width="13.40" height="53.73" fill="#000" stroke="#000" stroke-width="1.4"/>
<rect x="395.25" y="60.00" width="13.30" height="55.18" fill="#fff" stroke="#000" stroke-width="1.4"/>
<rect x="416.05" y="42.31" width="12.80" height="17.69" fill="#000" stroke="#000" stroke-width="1.4"/>
<line x1="276.00" y1="60.00" x2="439.40" y2="60.00" stroke="#000" stroke-width="1.6"/>
<line x1="276.00" y1="22.90" x2="276.00" y2="133.50" stroke="#000" stroke-width="1.6"/>
<line x1="271.70" y1="23.60" x2="276.00" y2="23.60" stroke="#000" stroke-width="1.4"/>
<text x="271.20" y="26.90" font-size="8.3" font-family='"Liberation Sans", Arial, sans-serif' text-anchor="end" font-weight="bold" textLength="9.0" lengthAdjust="spacingAndGlyphs">50</text>
<line x1="271.70" y1="60.00" x2="276.00" y2="60.00" stroke="#000" stroke-width="1.4"/>
<text x="271.20" y="63.30" font-size="8.3" font-family='"Liberation Sans", Arial, sans-serif' text-anchor="end" font-weight="bold" textLength="4.3" lengthAdjust="spacingAndGlyphs">0</text>
<line x1="271.70" y1="96.40" x2="276.00" y2="96.40" stroke="#000" stroke-width="1.4"/>
<text x="271.20" y="99.70" font-size="8.3" font-family='"Liberation Sans", Arial, sans-serif' text-anchor="end" font-weight="bold" textLength="11.5" lengthAdjust="spacingAndGlyphs">-50</text>
<line x1="271.70" y1="132.80" x2="276.00" y2="132.80" stroke="#000" stroke-width="1.4"/>
<text x="271.20" y="136.10" font-size="8.3" font-family='"Liberation Sans", Arial, sans-serif' text-anchor="end" font-weight="bold" textLength="15.0" lengthAdjust="spacingAndGlyphs">-100</text>
<line x1="303.80" y1="33.00" x2="303.80" y2="60.00" stroke="#000" stroke-width="1.4"/>
<line x1="357.70" y1="22.00" x2="357.70" y2="60.00" stroke="#000" stroke-width="1.4"/>
<line x1="413.00" y1="33.00" x2="413.00" y2="60.00" stroke="#000" stroke-width="1.4"/>
<text x="280.00" y="33.10" font-size="9.6" font-family='"Liberation Serif", "Times New Roman", serif' text-anchor="start" textLength="48.3" lengthAdjust="spacingAndGlyphs">Day3<tspan font-family="DejaVu Sans" font-weight="bold">&#8594;</tspan>Day7</text>
<text x="334.60" y="22.70" font-size="9.6" font-family='"Liberation Serif", "Times New Roman", serif' text-anchor="start" textLength="52.6" lengthAdjust="spacingAndGlyphs">Day7<tspan font-family="DejaVu Sans" font-weight="bold">&#8594;</tspan>Day14</text>
<text x="386.00" y="32.90" font-size="9.6" font-family='"Liberation Serif", "Times New Roman", serif' text-anchor="start" textLength="58.0" lengthAdjust="spacingAndGlyphs">Day14<tspan font-family="DejaVu Sans" font-weight="bold">&#8594;</tspan>Day28</text>
<text x="411.40" y="28.00" font-size="10" font-family='"DejaVu Sans", sans-serif' text-anchor="middle" font-weight="bold">*</text>
<text x="279.40" y="81.00" font-size="7.4" font-family='"Liberation Sans", Arial, sans-serif' text-anchor="start" textLength="23.3" lengthAdjust="spacingAndGlyphs">-15.0%</text>
<text x="303.30" y="84.40" font-size="7.4" font-family='"Liberation Sans", Arial, sans-serif' text-anchor="start" textLength="23.0" lengthAdjust="spacingAndGlyphs">-18.2%</text>
<text x="335.30" y="124.30" font-size="7.4" font-family='"Liberation Sans", Arial, sans-serif' text-anchor="start" textLength="23.3" lengthAdjust="spacingAndGlyphs">-75.5%</text>
<text x="356.40" y="134.00" font-size="7.4" font-family='"Liberation Sans", Arial, sans-serif' text-anchor="start" textLength="23.3" lengthAdjust="spacingAndGlyphs">-73.8%</text>
<text x="410.20" y="71.50" font-size="7.4" font-family='"Liberation Sans", Arial, sans-serif' text-anchor="start" textLength="26.1" lengthAdjust="spacingAndGlyphs">+24.3%</text>
<text x="391.30" y="126.00" font-size="7.4" font-family='"Liberation Sans", Arial, sans-serif' text-anchor="start" textLength="23.3" lengthAdjust="spacingAndGlyphs">-75.8%</text>
<text x="245.00" y="78.00" font-size="9.2" font-family='"Liberation Sans", Arial, sans-serif' text-anchor="middle" transform="rotate(-90 245.00 78.00)" textLength="139" lengthAdjust="spacingAndGlyphs">Mean relative volume changes (%)</text>
<rect x="452.8" y="33.0" width="3.4" height="3.4" fill="#fff" stroke="#000" stroke-width="1.3"/>
<rect x="452.2" y="42.1" width="4.5" height="4.7" fill="#000"/>
<text x="463.90" y="37.30" font-size="11.2" font-family='"Liberation Sans", Arial, sans-serif' text-anchor="start" textLength="37.4" lengthAdjust="spacingAndGlyphs">Control</text>
<text x="463.60" y="47.90" font-size="10.6" font-family='"Liberation Sans", Arial, sans-serif' text-anchor="start" font-style="italic" textLength="55.6" lengthAdjust="spacingAndGlyphs">Pecam-1 -/-</text>
</svg>
</body></html>
